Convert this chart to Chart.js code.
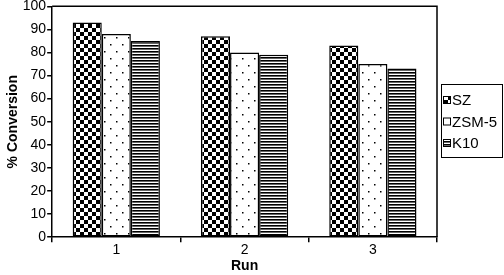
<!DOCTYPE html>
<html>
<head>
<meta charset="utf-8">
<script src="https://cdn.jsdelivr.net/npm/chart.js@4"></script>
<style>
  html, body { margin: 0; padding: 0; background: #fff; }
  #wrap { width: 504px; height: 275px; position: relative; }
</style>
</head>
<body>
<div id="wrap"><canvas id="chart"></canvas></div>
<script>
  // data
  const runs = ['1', '2', '3'];
  const szValues = [93, 87, 83];
  const zsmValues = [88, 80, 75];
  const k10Values = [85, 79, 73];
  const seriesNames = ['SZ', 'ZSM-5', 'K10'];
  const yTicks = [0, 10, 20, 30, 40, 50, 60, 70, 80, 90, 100];

  function makePattern(kind) {
    const c = document.createElement('canvas');
    const x = c.getContext('2d');
    if (kind === 'checker') {
      c.width = 8; c.height = 8;
      x.fillStyle = '#fff'; x.fillRect(0, 0, 8, 8);
      x.fillStyle = '#000';
      x.fillRect(0, 0, 4, 4);
      x.fillRect(4, 4, 4, 4);
    } else if (kind === 'dots') {
      c.width = 12; c.height = 14;
      x.fillStyle = '#fff'; x.fillRect(0, 0, 12, 14);
      x.fillStyle = '#000';
      x.fillRect(2, 2, 1.5, 1.5);
      x.fillRect(8, 9, 1.5, 1.5);
    } else {
      c.width = 4; c.height = 3;
      x.fillStyle = '#fff'; x.fillRect(0, 0, 4, 3);
      x.fillStyle = '#000';
      x.fillRect(0, 0, 4, 1.6);
    }
    return x.createPattern(c, 'repeat');
  }

  const fills = [makePattern('checker'), makePattern('dots'), makePattern('stripes')];
  const values = [szValues, zsmValues, k10Values];

  const frameAndLegend = {
    id: 'frameAndLegend',
    afterDraw(chart) {
      const ctx = chart.ctx;
      const a = chart.chartArea;
      ctx.save();
      ctx.strokeStyle = '#000';
      ctx.lineWidth = 1.5;
      ctx.beginPath();
      ctx.moveTo(a.left, a.top);
      ctx.lineTo(a.right, a.top);
      ctx.lineTo(a.right, a.bottom);
      ctx.stroke();

      // legend box
      const bx = 441, by = 84, bw = 61, bh = 73;
      ctx.lineWidth = 1;
      ctx.strokeRect(bx + 0.5, by + 0.5, bw, bh);
      ctx.font = '15px "Liberation Sans", Arial, sans-serif';
      ctx.textBaseline = 'middle';
      chart.data.datasets.forEach((ds, i) => {
        const cy = by + 16 + i * 21.5;
        ctx.fillStyle = ds.backgroundColor;
        ctx.fillRect(bx + 2, cy - 4, 8, 8);
        ctx.strokeStyle = '#000';
        ctx.strokeRect(bx + 2.5, cy - 3.5, 7, 7);
        ctx.fillStyle = '#000';
        ctx.fillText(ds.label, bx + 11, cy + 1);
      });
      ctx.restore();
    }
  };

  Chart.defaults.font.family = '"Liberation Sans", Arial, sans-serif';
  Chart.defaults.color = '#000';

  new Chart(
    document.getElementById('chart'),
    {
      type: 'bar',
      data: {
        labels: runs,
        datasets: seriesNames.map((name, i) => ({
          label: name,
          data: values[i],
          backgroundColor: fills[i],
          borderColor: '#000',
          borderWidth: 1.5,
          borderSkipped: false,
          categoryPercentage: 0.68,
          barPercentage: 1.0
        }))
      },
      plugins: [frameAndLegend],
      options: {
        responsive: true,
        maintainAspectRatio: false,
        animation: false,
        layout: {
          padding: { left: 3, right: 67, top: 0, bottom: 0 }
        },
        plugins: {
          legend: { display: false },
          tooltip: { enabled: false }
        },
        scales: {
          x: {
            grid: {
              display: true,
              drawOnChartArea: false,
              drawTicks: true,
              tickLength: 5,
              color: '#000',
              lineWidth: 1.5,
              offset: true
            },
            border: { color: '#000', width: 1.5 },
            ticks: {
              color: '#000',
              font: { size: 14, lineHeight: 1 },
              padding: 1
            },
            title: {
              display: true,
              text: 'Run',
              font: { size: 14, weight: 'bold' },
              padding: { top: 0, bottom: 0 }
            }
          },
          y: {
            min: 0,
            max: 100,
            afterBuildTicks: (axis) => { axis.ticks = yTicks.map(v => ({ value: v })); },
            grid: {
              display: true,
              drawOnChartArea: false,
              drawTicks: true,
              tickLength: 5,
              color: '#000',
              lineWidth: 1.5
            },
            border: { color: '#000', width: 1.5 },
            ticks: {
              color: '#000',
              font: { size: 14, lineHeight: 0.75 },
              padding: 1
            },
            title: {
              display: true,
              text: '% Conversion',
              font: { size: 14, weight: 'bold' },
              padding: { top: 2, bottom: 0 }
            }
          }
        }
      }
    }
  );
</script>
</body>
</html>
